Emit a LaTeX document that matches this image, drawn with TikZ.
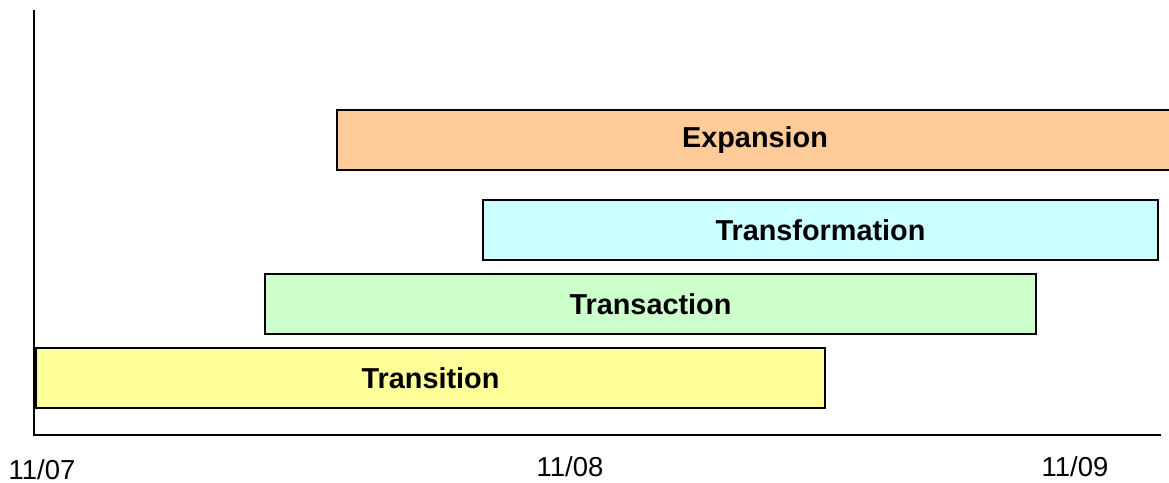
\documentclass[tikz,border=0pt]{standalone}
\usepackage{fontspec}
\setmainfont{Liberation Sans}

\definecolor{expcol}{HTML}{FFCC99}
\definecolor{trfcol}{HTML}{CCFFFF}
\definecolor{tracol}{HTML}{CCFFCC}
\definecolor{trncol}{HTML}{FFFF99}

\begin{document}
\begin{tikzpicture}[x=0.01cm, y=-0.01cm, line width=0.2mm,
  bar/.style={draw, inner sep=0pt, anchor=north west, minimum height=0.6cm,
    font=\bfseries\fontsize{8.2}{10}\selectfont},
  tick/.style={font=\fontsize{7.8}{9}\selectfont}]

\useasboundingbox (0,0) rectangle (1169,483);

% Corner of the axes and their far ends
\coordinate (O) at (34,435);
\coordinate (Y) at (34,10);
\coordinate (X) at (1161,435);

% Draw the axes
\draw[line width=0.16mm] (Y) -- (O) -- (X);

% Bars: name/left/right/top/colour/label
\foreach \n/\l/\r/\t/\c/\s in {exp/336/1172/109/expcol/Expansion,
  trf/482/1157/199/trfcol/Transformation,
  tra/264/1035/273/tracol/Transaction,
  trn/35/824/347/trncol/Transition} {
  \node[bar, fill=\c, minimum width={(\r-\l)*0.01cm}] (\n) at (\l,\t) {\s};
}

% Dates under the axis
\node[tick] (d7) at (42,470) {11/07};
\node[tick] (d8) at (570,467) {11/08};
\node[tick] (d9) at (1075,467) {11/09};

\end{tikzpicture}
\end{document}
